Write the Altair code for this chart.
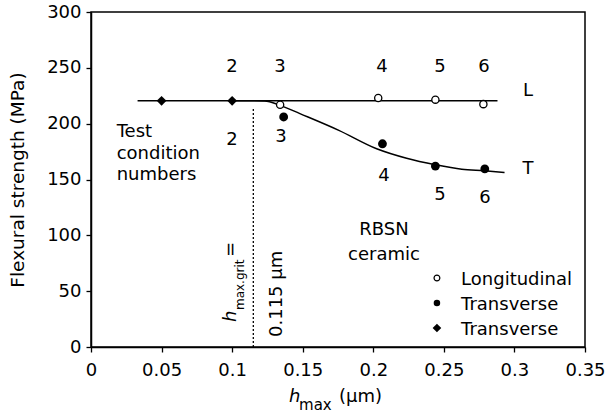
import altair as alt
import pandas as pd

FONT = "DejaVu Sans"

# ---------------- data ----------------
diamond_x = [0.05, 0.10]
diamond_y = [220.5, 220.5]

long_x = [0.134, 0.2035, 0.244, 0.278]
long_y = [217.0, 223.0, 221.5, 217.5]

trans_x = [0.1365, 0.2065, 0.244, 0.279]
trans_y = [206.0, 182.0, 162.0, 159.5]

L_line_x = [0.033, 0.288]
L_line_y = [220.5, 220.5]

T_curve_x = [0.100, 0.112, 0.123, 0.134, 0.148, 0.1756, 0.2024, 0.2236, 0.244, 0.2627, 0.2788, 0.293]
T_curve_y = [220.5, 220.5, 220.3, 216.4, 209.0, 194.0, 177.5, 169.0, 163.2, 159.2, 157.8, 156.3]

grit_x = 0.115
grit_top = 214.0

x_ticks = [0, 0.05, 0.1, 0.15, 0.2, 0.25, 0.3, 0.35]
y_ticks = [0, 50, 100, 150, 200, 250, 300]

# annotation texts (label, x, y)
num_text = ["2", "3", "4", "5", "6", "2", "3", "4", "5", "6", "L", "T"]
num_x = [0.0999, 0.1339, 0.2062, 0.2473, 0.2785, 0.0999, 0.1346, 0.2076, 0.2473, 0.2792, 0.3096, 0.3096]
num_y = [250.7, 250.7, 250.7, 250.7, 250.7, 185.8, 188.0, 153.1, 136.1, 133.0, 229.2, 159.4]

note_text = ["Test", "condition", "numbers"]
note_x = [0.0182, 0.0182, 0.0182]
note_y = [188.1, 168.8, 149.5]

rbsn_text = ["RBSN", "ceramic"]
rbsn_x = [0.2076, 0.2076]
rbsn_y = [104.8, 82.4]

leg_text = ["Longitudinal", "Transverse", "Transverse"]
leg_sym_x = 0.2451
leg_txt_x = 0.2622
leg_sym_y = [61.8, 39.4, 17.0]
leg_txt_y = [55.5, 33.1, 10.7]

# ---------------- helpers ----------------
xs = alt.Scale(domain=[0, 0.35], nice=False, zero=False)
ys = alt.Scale(domain=[0, 300], nice=False, zero=False)


def df(**cols):
    return pd.DataFrame(cols)


def X(field="x", axis=False):
    if axis:
        return alt.X(field, type="quantitative", scale=xs,
                     axis=alt.Axis(values=x_ticks, format="~g", title=None,
                                   labelFlush=False, labelOverlap=False,
                                   labelPadding=9))
    return alt.X(field, type="quantitative", scale=xs)


def Y(field="y", axis=False):
    if axis:
        return alt.Y(field, type="quantitative", scale=ys,
                     axis=alt.Axis(values=y_ticks, title="Flexural strength (MPa)",
                                   titleFont=FONT, titleFontSize=18.5,
                                   titleFontWeight="normal", titleColor="black",
                                   titlePadding=19, labelFlush=False,
                                   labelOverlap=False, labelPadding=5))
    return alt.Y(field, type="quantitative", scale=ys)


def text_layer(data, align="center", baseline="middle", size=18, angle=0, style="normal", y_px=False):
    m = alt.Chart(data).mark_text(font=FONT, fontSize=size, align=align,
                                  baseline=baseline, color="black",
                                  angle=angle, fontStyle=style)
    if y_px:
        return m.encode(x=X(), y=alt.value(data["py"].iloc[0]), text="t:N")
    return m.encode(x=X(), y=Y(), text="t:N")


# ---------------- layers ----------------
L_line = alt.Chart(df(x=L_line_x, y=L_line_y)).mark_line(color="black", strokeWidth=1.5).encode(
    x=X(axis=True), y=Y(axis=True))

T_line = alt.Chart(df(x=T_curve_x, y=T_curve_y)).mark_line(
    color="black", strokeWidth=1.5, interpolate="monotone").encode(x=X(), y=Y())

grit = alt.Chart(df(x=[grit_x], y=[0.0], y2=[grit_top])).mark_rule(
    color="black", strokeWidth=1.3, strokeDash=[2, 2]).encode(x=X(), y=Y(), y2="y2:Q")

diamonds = alt.Chart(df(x=diamond_x, y=diamond_y)).mark_point(
    shape="diamond", filled=True, color="black", size=95, opacity=1).encode(x=X(), y=Y())

open_c = alt.Chart(df(x=long_x, y=long_y)).mark_point(
    shape="circle", filled=True, fill="white", stroke="black", strokeWidth=1.3,
    size=52, opacity=1).encode(x=X(), y=Y())

filled_c = alt.Chart(df(x=trans_x, y=trans_y)).mark_point(
    shape="circle", filled=True, color="black", size=78, opacity=1).encode(x=X(), y=Y())

nums = text_layer(df(t=num_text, x=num_x, y=num_y))
note = text_layer(df(t=note_text, x=note_x, y=note_y), align="left", baseline="alphabetic")
rbsn = text_layer(df(t=rbsn_text, x=rbsn_x, y=rbsn_y))

leg_open = alt.Chart(df(x=[leg_sym_x], y=[leg_sym_y[0]])).mark_point(
    shape="circle", filled=True, fill="white", stroke="black", strokeWidth=1.2,
    size=34, opacity=1).encode(x=X(), y=Y())
leg_fill = alt.Chart(df(x=[leg_sym_x], y=[leg_sym_y[1]])).mark_point(
    shape="circle", filled=True, color="black", size=42, opacity=1).encode(x=X(), y=Y())
leg_dia = alt.Chart(df(x=[leg_sym_x], y=[leg_sym_y[2]])).mark_point(
    shape="diamond", filled=True, color="black", size=75, opacity=1).encode(x=X(), y=Y())
leg_txt = text_layer(df(t=leg_text, x=[leg_txt_x] * 3, y=leg_txt_y), align="left", baseline="alphabetic")

# vertical annotation: h_max.grit = 0.115 µm
v_val = text_layer(df(t=["0.115 µm"], x=[0.1353], y=[8.96]), align="left",
                   baseline="alphabetic", angle=270)
v_h = text_layer(df(t=["h"], x=[0.1027], y=[22.4]), align="left",
                 baseline="alphabetic", angle=270, style="italic")
v_sub = text_layer(df(t=["max.grit"], x=[0.1084], y=[33.1]), align="left",
                   baseline="alphabetic", angle=270, size=12)
v_eq = text_layer(df(t=["="], x=[0.1027], y=[80.6]), align="left",
                  baseline="alphabetic", angle=270)

# x-axis title: h_max (µm)
xt_h = text_layer(df(t=["h"], x=[0.1403], py=[390]), align="left", baseline="alphabetic",
                  style="italic", y_px=True)
xt_sub = text_layer(df(t=["max"], x=[0.1474], py=[398]), align="left", baseline="alphabetic",
                    size=15, y_px=True)
xt_unit = text_layer(df(t=["(µm)"], x=[0.1757], py=[390]), align="left", baseline="alphabetic",
                     y_px=True)

chart = alt.layer(
    L_line, T_line, grit, diamonds, open_c, filled_c,
    nums, note, rbsn, leg_open, leg_fill, leg_dia, leg_txt,
    v_val, v_h, v_sub, v_eq, xt_h, xt_sub, xt_unit,
).properties(
    width=494, height=335,
    autosize=alt.AutoSizeParams(type="none"),
    padding={"left": 91, "top": 12, "right": 20, "bottom": 71},
    background="white",
).configure_view(
    stroke="black", strokeWidth=1.5,
).configure_axis(
    grid=False, domainColor="black", domainWidth=1.5, tickColor="black",
    tickWidth=1.3, tickSize=5, labelColor="black", labelFont=FONT,
    labelFontSize=18,
)

chart.save("out.html", embed_options={"renderer": "svg", "actions": False})
